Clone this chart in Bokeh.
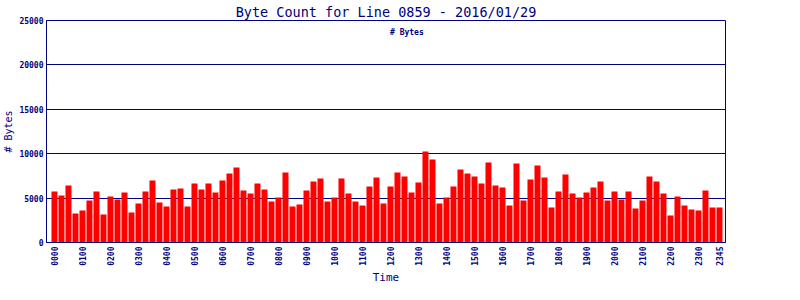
import math
from bokeh.plotting import figure
from bokeh.models import ColumnDataSource, FixedTicker, Range1d, Legend, LegendItem
from bokeh.embed import file_html
from bokeh.resources import INLINE

# 15-minute intervals, 0000 .. 2345
times = ["%02d%02d" % (h, m) for h in range(24) for m in (0, 15, 30, 45)]
byte_counts = [
    5740, 5290, 6420, 3270, 3600, 4730, 5740, 3150, 5180, 4840, 5630, 3380,
    4390, 5740, 6980, 4500, 4050, 5970, 6080, 4050, 6640, 5970, 6640, 5630,
    6980, 7770, 8450, 5860, 5520, 6640, 5970, 4620, 5070, 7880, 4050, 4280,
    5860, 6870, 7210, 4620, 5070, 7210, 5520, 4620, 4170, 6310, 7320, 4390,
    6310, 7880, 7430, 5630, 6760, 10250, 9350, 4390, 5070, 6310, 8220, 7770,
    7430, 6640, 9010, 6420, 6190, 4170, 8900, 4730, 7090, 8670, 7320, 3940,
    5740, 7660, 5520, 5070, 5630, 6190, 6870, 4730, 5740, 4840, 5740, 3830,
    4730, 7430, 6870, 5520, 3040, 5180, 4170, 3720, 3600, 5860, 3940, 3940,
]
tick_labels = ["0000", "0100", "0200", "0300", "0400", "0500", "0600", "0700",
               "0800", "0900", "1000", "1100", "1200", "1300", "1400", "1500",
               "1600", "1700", "1800", "1900", "2000", "2100", "2200", "2300", "2345"]
y_ticks = [0, 5000, 10000, 15000, 20000, 25000]

NAVY = "#000080"
MONO = "DejaVu Sans Mono"

tick_positions = [times.index(t) for t in tick_labels]
src = ColumnDataSource(dict(x=list(range(len(times))), y=byte_counts, t=times))

p = figure(frame_width=679, frame_height=222, output_backend="svg", toolbar_location=None,
           x_range=Range1d(-1.14, 95.86), y_range=Range1d(0, 25000),
           min_border_left=46, min_border_right=75, min_border_top=20,
           min_border_bottom=0, background_fill_color="white",
           border_fill_color="white", outline_line_color=NAVY, outline_line_width=1)

bars = p.vbar(x="x", top="y", width=0.857, bottom=0, source=src,
              fill_color="#FF0000", line_color=None)
legend_sw = p.vbar(x=[], top=[], width=0.857, fill_color="#FF0000",
                   line_color="#808080", line_width=1.5)

p.title.text = "Byte Count for Line 0859 - 2016/01/29"
p.title.align = "center"
p.title.text_font = MONO
p.title.text_font_size = "13.5px"
p.title.text_font_style = "normal"
p.title.text_color = NAVY
p.title.standoff = 2

# axes
for ax in (p.xaxis[0], p.yaxis[0]):
    ax.axis_line_color = NAVY
    ax.axis_line_width = 1
    ax.major_tick_out = 0
    ax.major_tick_in = 0
    ax.minor_tick_out = 0
    ax.minor_tick_in = 0
    ax.major_label_text_font = MONO
    ax.major_label_text_font_size = "8px"
    ax.major_label_text_font_style = "bold"
    ax.major_label_text_color = NAVY
    ax.axis_label_text_font = MONO
    ax.axis_label_text_font_style = "normal"
    ax.axis_label_text_color = NAVY

p.yaxis.ticker = FixedTicker(ticks=y_ticks)
p.yaxis.axis_label = "# Bytes"
p.yaxis.axis_label_text_font_size = "10px"
p.yaxis.major_label_standoff = 3
p.yaxis.axis_label_standoff = 2

p.xaxis.ticker = FixedTicker(ticks=tick_positions)
p.xaxis.major_label_overrides = {pos: lab for pos, lab in zip(tick_positions, tick_labels)}
p.xaxis.major_label_orientation = math.pi / 2
p.xaxis.major_label_standoff = 4
p.xaxis.axis_label = "Time"
p.xaxis.axis_label_text_font_size = "11px"
p.xaxis.axis_label_text_line_height = 1.0
p.xaxis.axis_label_standoff = 2

p.xgrid.grid_line_color = None
p.ygrid.ticker = FixedTicker(ticks=y_ticks)
p.ygrid.grid_line_color = NAVY
p.ygrid.grid_line_width = 1

legend = Legend(items=[LegendItem(label="# Bytes", renderers=[legend_sw])],
                orientation="horizontal", location=(328, 205))
legend.label_text_font = MONO
legend.label_text_font_size = "8px"
legend.label_text_font_style = "bold"
legend.label_text_line_height = 1.0
legend.label_text_color = NAVY
legend.glyph_width = 12
legend.glyph_height = 8
legend.label_height = 8
legend.label_standoff = 4
legend.padding = 0
legend.margin = 0
legend.spacing = 0
legend.border_line_color = None
legend.background_fill_alpha = 0
p.add_layout(legend)

open("out.html", "w").write(file_html(p, INLINE))
